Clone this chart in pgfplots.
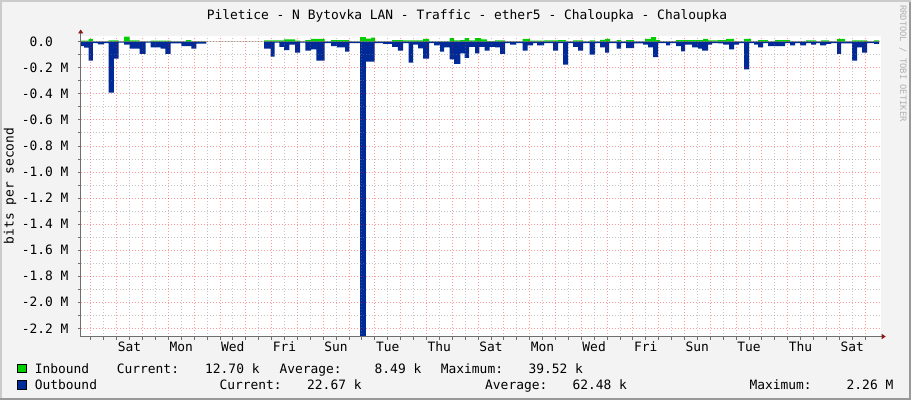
\documentclass[border=0pt]{standalone}
\usepackage{fontspec}
\setmainfont{DejaVu Sans Mono}
\usepackage{pgfplots}
\usepackage{pgfplotstable}
\pgfplotsset{compat=1.18}
\usetikzlibrary{arrows.meta}

\definecolor{inb}{HTML}{00CF00}
\definecolor{outb}{HTML}{002A97}
\definecolor{canvasbg}{HTML}{F3F3F3}
\definecolor{shadeA}{HTML}{CBCBCB}
\definecolor{shadeB}{HTML}{999999}
\definecolor{axiscol}{HTML}{6E6E6E}
\definecolor{arrowcol}{HTML}{8B1A1A}

\newcommand\rf{\fontsize{12.9bp}{15bp}\selectfont}

% days since Friday 00:00, bits/s in M (const steps)
\pgfplotstableread{
x y
-0.395 0.008
-0.085 0.021
0.081 0.003
0.690 0.010
1.077 0.002
1.283 0.0395
1.504 0.010
1.891 0.003
2.317 0.008
3.092 0.003
3.685 0.012
3.891 0.003
4.472 0
6.708 0.010
7.483 0.018
7.909 0.008
8.103 0.003
8.308 0.013
8.529 0.021
9.060 0.002
9.304 0.013
10.013 0.003
10.428 0.036
10.660 0.023
10.854 0.031
11.009 0.003
11.668 0.013
12.094 0.010
12.869 0.021
13.102 0.003
13.904 0.028
14.071 0.010
14.315 0.013
14.485 0.028
14.652 0.010
14.884 0.028
15.117 0.018
15.349 0.005
15.659 0.010
16.047 0.003
16.733 0.021
17.013 0.008
17.558 0.010
18.101 0.013
18.410 0.003
18.682 0.010
19.069 0.003
19.329 0.010
19.534 0.003
19.728 0.015
19.922 0.021
20.116 0.003
20.375 0.013
20.542 0.003
20.736 0.013
21.046 0.003
21.472 0.021
21.704 0.036
21.898 0.013
22.053 0.003
22.673 0.013
23.719 0.021
23.913 0.010
24.301 0.013
24.610 0.021
24.921 0.003
25.308 0.021
25.579 0.003
25.851 0.013
26.238 0.003
26.509 0.013
27.091 0.003
27.711 0.010
28.099 0.003
28.292 0.010
28.602 0.003
28.912 0.021
29.222 0.003
29.493 0.010
30.075 0.003
30.346 0.010
30.540 0
}\inbound

\pgfplotstableread{
x y
-0.395 -0.033
-0.267 -0.045
-0.085 -0.146
0.081 -0.010
0.275 -0.020
0.508 -0.010
0.690 -0.390
0.895 -0.130
1.077 -0.008
1.283 -0.023
1.504 -0.053
1.891 -0.094
2.124 -0.008
2.317 -0.043
2.705 -0.053
2.883 -0.094
3.092 -0.012
3.503 -0.033
3.891 -0.053
4.084 -0.015
4.472 0
6.708 -0.053
6.967 -0.115
7.122 -0.008
7.301 -0.039
7.483 -0.064
7.688 -0.023
7.909 -0.084
8.103 -0.008
8.308 -0.069
8.529 -0.059
8.735 -0.146
9.060 -0.010
9.304 -0.033
9.537 -0.043
9.847 -0.077
10.013 -0.010
10.428 -2.260
10.660 -0.153
10.998 -0.010
11.319 -0.017
11.668 -0.039
11.900 -0.069
12.094 -0.010
12.315 -0.161
12.482 -0.023
12.676 -0.051
12.869 -0.130
13.102 -0.010
13.296 -0.028
13.528 -0.077
13.683 -0.043
13.904 -0.135
14.071 -0.171
14.315 -0.089
14.485 -0.125
14.652 -0.039
14.884 -0.089
15.051 -0.039
15.260 -0.069
15.454 -0.039
15.659 -0.043
15.853 -0.094
16.047 -0.010
16.241 -0.023
16.473 -0.010
16.733 -0.069
16.926 -0.028
17.132 -0.010
17.287 -0.028
17.558 -0.010
17.907 -0.069
18.101 -0.010
18.294 -0.176
18.488 -0.010
18.682 -0.039
18.876 -0.069
19.069 -0.010
19.329 -0.099
19.534 -0.010
19.728 -0.043
19.922 -0.084
20.077 -0.010
20.375 -0.053
20.542 -0.010
20.736 -0.049
21.046 -0.012
21.394 -0.023
21.588 -0.043
21.782 -0.118
21.976 -0.010
22.286 -0.028
22.441 -0.010
22.673 -0.033
22.867 -0.074
23.022 -0.023
23.293 -0.043
23.526 -0.053
23.681 -0.069
23.913 -0.023
24.068 -0.010
24.301 -0.012
24.494 -0.023
24.727 -0.059
24.921 -0.023
25.115 -0.010
25.308 -0.212
25.502 -0.010
25.696 -0.023
25.851 -0.043
26.045 -0.010
26.238 -0.033
26.897 -0.010
27.091 -0.028
27.285 -0.010
27.479 -0.028
27.711 -0.010
27.905 -0.023
28.099 -0.010
28.253 -0.028
28.486 -0.017
28.680 -0.010
28.912 -0.094
29.067 -0.012
29.493 -0.146
29.687 -0.043
29.881 -0.084
30.075 -0.010
30.346 -0.017
30.540 0
}\outbound

\begin{document}
\begin{tikzpicture}[x=1bp, y=1bp, font=\rf]
\useasboundingbox (0,0) rectangle (911,400);
% canvas with rrdtool style frame
\fill[canvasbg] (0,0) rectangle (911,400);
\fill[shadeA] (0,0) rectangle (2,400);
\fill[shadeA] (0,398) rectangle (911,400);
\fill[shadeB] (0,0) rectangle (911,2);
\fill[shadeB] (909,0) rectangle (911,398);

\begin{axis}[
  at={(80.7bp,63.5bp)}, anchor=south west,
  scale only axis, width=800bp, height=300bp,
  xmin=-0.395, xmax=30.605, ymin=-2.263, ymax=0.040,
  axis lines=left,
  axis line style={draw=axiscol, line width=0.8bp},
  x axis line style={-{Triangle[width=5bp,length=4bp,color=arrowcol]}, shorten >=-5bp},
  y axis line style={-{Triangle[width=5bp,length=4bp,color=arrowcol]}, shorten >=-7bp},
  axis background/.style={fill=white},
  axis on top,
  grid=both,
  major grid style={draw=red, draw opacity=0.4, dash pattern=on 1bp off 2bp, line width=0.8bp},
  minor grid style={draw=gray, draw opacity=0.45, dash pattern=on 1bp off 2bp, line width=0.8bp},
  tick align=outside,
  major tick length=3bp, minor tick length=3bp,
  tick style={draw=axiscol, line width=0.8bp},
  xtick={0,1,...,30}, xticklabels={},
  minor x tick num=1,
  extra x ticks={1.5,3.5,5.5,7.5,9.5,11.5,13.5,15.5,17.5,19.5,21.5,23.5,25.5,27.5,29.5},
  extra x tick labels={Sat,Mon,Wed,Fri,Sun,Tue,Thu,Sat,Mon,Wed,Fri,Sun,Tue,Thu,Sat},
  extra x tick style={grid=none, major tick length=0pt},
  xticklabel style={font=\rf, anchor=base, yshift=-14.7bp},
  ytick={-2.2,-2.0,-1.8,-1.6,-1.4,-1.2,-1.0,-0.8,-0.6,-0.4,-0.2,0},
  yticklabels={-2.2 M,-2.0 M,-1.8 M,-1.6 M,-1.4 M,-1.2 M,-1.0 M,-0.8 M,-0.6 M,-0.4 M,-0.2 M,0.0\phantom{ M}},
  minor y tick num=1,
  yticklabel style={font=\rf, anchor=east, inner sep=0pt, xshift=-9bp},
]
\addplot[const plot, draw=none, fill=inb] table[x=x, y=y] {\inbound} \closedcycle;
\addplot[const plot, draw=none, fill=outb] table[x=x, y=y] {\outbound} \closedcycle;
\end{axis}

% title, axis label, credit
\node[anchor=base, inner sep=0] at (467,381) {Piletice - N Bytovka LAN - Traffic - ether5 - Chaloupka - Chaloupka};
\node[rotate=90, inner sep=0] at (10,214) {bits per second};
\node[rotate=-90, anchor=west, inner sep=0, text=gray!60, font=\fontsize{8.8bp}{10bp}\selectfont] at (903,395) {RRDTOOL / TOBI OETIKER};

% legend rows
\filldraw[fill=inb, draw=black, line width=0.6bp] (17.3,27.3) rectangle (26.7,36);
\filldraw[fill=outb, draw=black, line width=0.6bp] (17.3,11) rectangle (26.7,19.7);
\begin{scope}[every node/.style={anchor=base west, inner sep=0}]
\node at (34.7,27) {Inbound};
\node at (116.7,27) {Current:};
\node at (205,27) {12.70 k};
\node at (279.3,27) {Average:};
\node at (374.5,27) {8.49 k};
\node at (440.7,27) {Maximum:};
\node at (528.3,27) {39.52 k};
\node at (34.7,11) {Outbound};
\node at (219.3,11) {Current:};
\node at (307,11) {22.67 k};
\node at (485,11) {Average:};
\node at (572.3,11) {62.48 k};
\node at (749.3,11) {Maximum:};
\node at (846.5,11) {2.26 M};
\end{scope}
\end{tikzpicture}
\end{document}
